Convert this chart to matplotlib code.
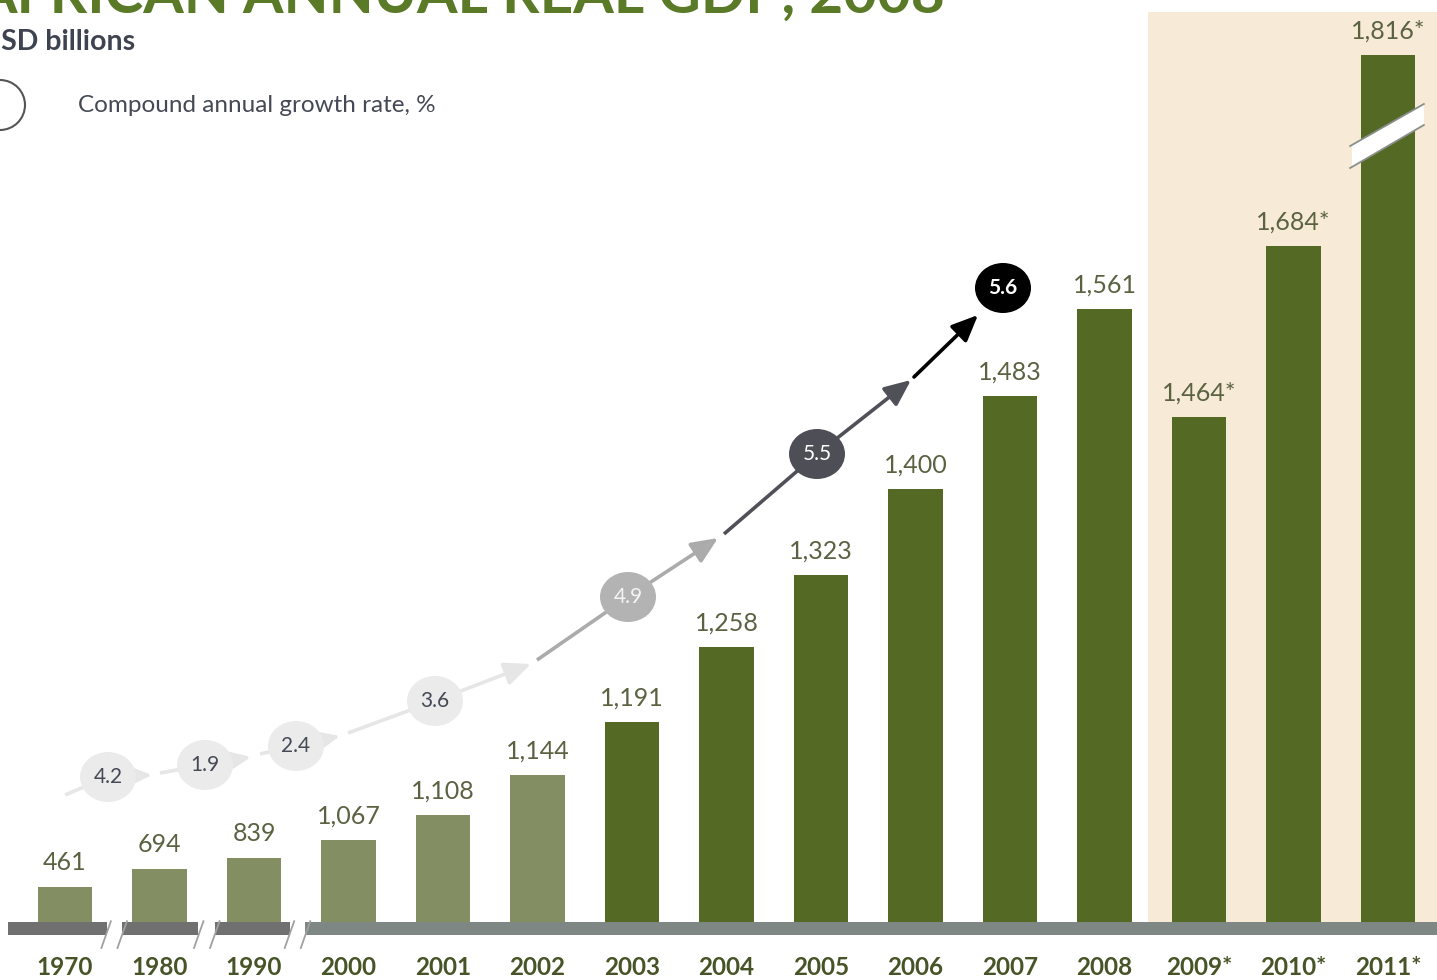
import numpy as np
import matplotlib
matplotlib.use("Agg")
import matplotlib.pyplot as plt
from matplotlib.patches import Ellipse, Circle, Polygon

plt.rcParams['font.family'] = ['Lato', 'DejaVu Sans']

# data
years = ["1970", "1980", "1990", "2000", "2001", "2002", "2003", "2004",
         "2005", "2006", "2007", "2008", "2009*", "2010*", "2011*"]
gdp = [461, 694, 839, 1067, 1108, 1144, 1191, 1258, 1323, 1400, 1483,
       1561, 1464, 1684, 1816]
is_forecast = [False] * 12 + [True] * 3
cagr = [4.2, 1.9, 2.4, 3.6, 4.9, 5.5, 5.6]

# colours
light_green = "#838f62"
dark_green = "#536924"
cream = "#f7ebd7"
label_col = "#5a6242"
year_col = "#475427"
text_col = "#444955"

# schematic (non linear) value axis: value -> pixels above baseline
knot_v = [-500, 0, 1067, 1108, 1561, 1684, 1816, 2300]
knot_h = [-500, 0, 82, 107, 613, 676, 867, 1160]


def fwd(v):
    return np.interp(v, knot_v, knot_h)


def inv(h):
    return np.interp(h, knot_h, knot_v)


fig = plt.figure(figsize=(14.37, 9.8), dpi=100)
ax = fig.add_axes([0, 0, 1, 1])
ax.set_yscale('function', functions=(fwd, inv))
x = np.arange(len(years))
ax.set_xlim(-0.688, 14.519)
ax.set_ylim(inv(-58), inv(922))
ax.axis('off')

# forecast shading
ax.fill_between([11.46, 14.7], 0, inv(910), color=cream, lw=0, zorder=0)

colors = [light_green if i < 6 else dark_green for i in range(len(years))]
ax.bar(x, gdp, width=0.58, color=colors, zorder=2)

for i, (v, f) in enumerate(zip(gdp, is_forecast)):
    lab = f"{v:,}" + ("*" if f else "")
    ax.annotate(lab, (i, v), xytext=(0, 9), textcoords='offset points',
                ha='center', va='bottom', fontsize=18, color=label_col,
                zorder=5)
    ax.text(i, inv(-45), years[i], ha='center', va='center', fontsize=17.5,
            fontweight='bold', color=year_col)

# baseline band with breaks between the decades
band = [(-0.6, 0.44, "#707070"), (0.60, 1.41, "#707070"),
        (1.59, 2.38, "#707070"), (2.54, 14.7, "#7e8784")]
for x0, x1, c in band:
    ax.fill_between([x0, x1], -13, 0, color=c, lw=0, zorder=3)
for g in [0.52, 1.50, 2.46]:
    for d in (-0.085, 0.085):
        ax.plot([g + d - 0.05, g + d + 0.05], [-26, 10], color="#a0a0a0",
                lw=1.3, zorder=4)

# break on the 2011 bar
bx0, bx1 = 13.62, 14.38
brk = Polygon([(bx0, inv(755)), (bx1, inv(797)), (bx1, inv(818)),
               (bx0, inv(777))], closed=True, fc="white", ec="none", zorder=4)
ax.add_patch(brk)
for h0, h1 in [(755, 797), (777, 818)]:
    ax.plot([bx0 - 0.02, bx1], [inv(h0 - 1), inv(h1)], color="#8a8f8c",
            lw=1.3, zorder=5)

# overlay in pixel space for titles and growth-rate chain
ov = fig.add_axes([0, 0, 1, 1], zorder=10)
ov.set_xlim(0, 1437)
ov.set_ylim(980, 0)
ov.axis('off')
ov.patch.set_alpha(0)

ov.text(-24, 13, "AFRICAN ANNUAL REAL GDP, 2008", fontsize=42,
        fontweight='bold', color="#5b7a27", va='baseline')
ov.text(-20, 42, "USD billions", fontsize=20.5, fontweight='bold',
        color="#3e4350", va='center')
ov.add_patch(Circle((0, 105), 25, fc="white", ec="#555555", lw=1.5))
ov.text(78, 106, "Compound annual growth rate, %", fontsize=17.5,
        color=text_col, va='center')

bubble_xy = [(108, 777), (205, 765), (296, 746), (435, 701), (628, 597),
             (817, 454), (1003, 288)]
bubble_fc = ["#ebebeb"] * 4 + ["#b3b3b3", "#4e4e56", "#000000"]
bubble_tc = [text_col] * 4 + ["#f4f4f4", "white", "white"]

light, mid, dark = "#e6e6e6", "#ababab", "#505058"


def arrow(p0, p1, c):
    ov.annotate("", xy=p1, xytext=p0, zorder=1,
                arrowprops=dict(arrowstyle='-|>,head_length=0.8,head_width=0.35',
                                color=c, lw=2.6, shrinkA=0, shrinkB=0,
                                mutation_scale=20))


def line(p0, p1, c):
    ov.plot([p0[0], p1[0]], [p0[1], p1[1]], color=c, lw=2.6, zorder=1,
            solid_capstyle='butt')


line((65, 795), bubble_xy[0], light)
arrow(bubble_xy[0], (152, 775), light)
line((160, 773), bubble_xy[1], light)
arrow(bubble_xy[1], (251, 757), light)
line((260, 754), bubble_xy[2], light)
arrow(bubble_xy[2], (340, 736), light)
line((348, 733), bubble_xy[3], light)
arrow(bubble_xy[3], (531, 664), light)
line((537, 660), bubble_xy[4], mid)
arrow(bubble_xy[4], (718, 538), mid)
line((724, 534), bubble_xy[5], dark)
arrow(bubble_xy[5], (911, 380), dark)
arrow((914, 377), (978, 315), "black")

for (bx, by), v, fc, tc in zip(bubble_xy, cagr, bubble_fc, bubble_tc):
    ov.add_patch(Ellipse((bx, by), 56, 50, fc=fc, ec="none", zorder=2))
    ov.text(bx, by, f"{v:.1f}", ha='center', va='center', fontsize=15,
            color=tc, zorder=3,
            fontweight='bold' if v == cagr[-1] else 'normal')

plt.savefig("out.png", dpi=100)
